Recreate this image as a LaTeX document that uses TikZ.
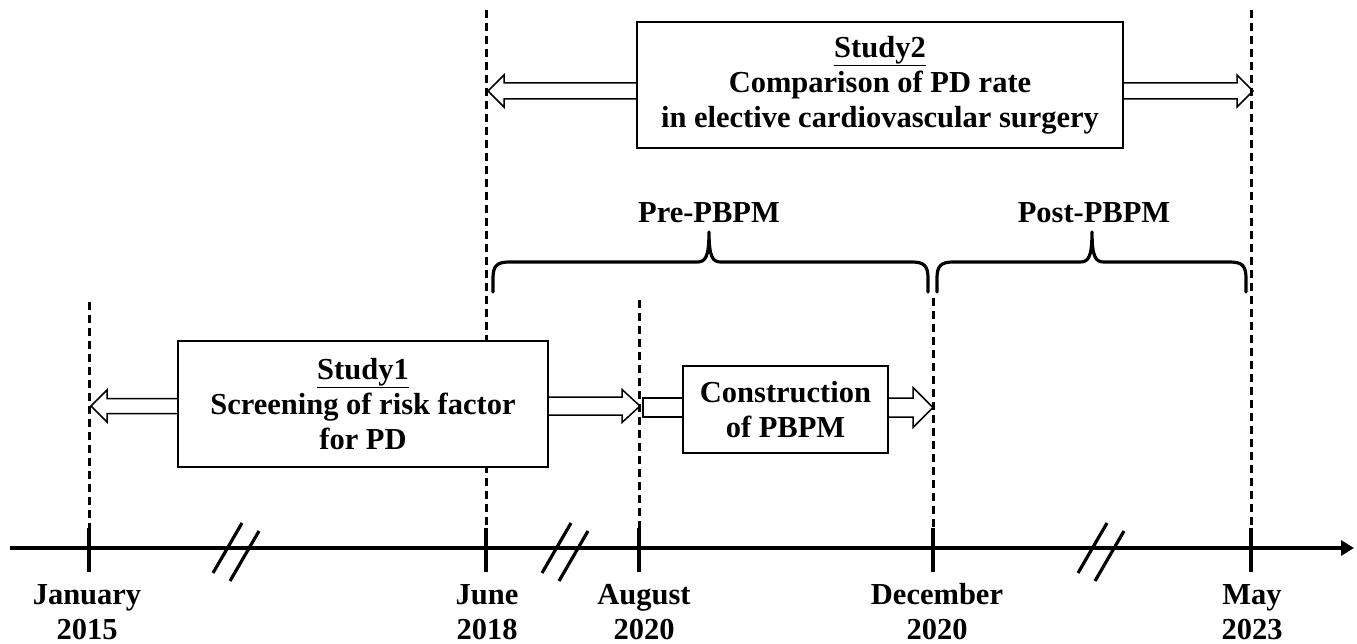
\documentclass[tikz,border=0pt]{standalone}
\usepackage{fontspec}
\setmainfont{Liberation Serif}
\usetikzlibrary{arrows.meta,calc}
\tikzset{brk/.pic={\draw[axisline] (-23,25) -- (6,-25); \draw[axisline] (-6,33) -- (23,-17);}}
\newcommand\blockarr[5]{%
  \draw[barrow] ($(#1)+(0,#3)$) -- ($(#2)+({-(#5)},{#3})$) -- ($(#2)+({-(#5)},{#4})$) -- (#2) -- ($(#2)+({-(#5)},{-(#4)})$) -- ($(#2)+({-(#5)},{-(#3)})$) -- ($(#1)+(0,{-(#3)})$);}
\newcommand\bracedraw[3]{%
  \draw[bracel] (#1,292) -- (#1,278) .. controls (#1,266) and ({#1+4},262) .. ({#1+16},262) -- ({#2-12},262) .. controls ({#2-4},262) and (#2,258) .. (#2,232) .. controls (#2,258) and ({#2+4},262) .. ({#2+12},262) -- ({#3-16},262) .. controls ({#3-4},262) and (#3,266) .. (#3,278) -- (#3,292);}
\newcommand\tallstrut{\rule{0pt}{21pt}}
\begin{document}
\begin{tikzpicture}[x=1pt,y=-1pt,
  every node/.style={font=\fontsize{30.5}{35}\selectfont\bfseries, align=center, inner sep=0pt},
  box/.style={draw, line width=1.5pt, fill=white},
  guide/.style={line width=3pt, dash pattern=on 8pt off 5pt},
  axisline/.style={line width=3.2pt},
  barrow/.style={draw, line width=1.5pt, line join=miter},
  bracel/.style={line width=3.2pt, line cap=round, line join=round},
  datelbl/.style={anchor=north}]
\useasboundingbox (0,0) rectangle (1357,644);
% time axis
\coordinate (tJan) at (89,548);
\coordinate (tJun) at (486,548);
\coordinate (tAug) at (639,548);
\coordinate (tDec) at (933,548);
\coordinate (tMay) at (1251,548);
\coordinate (axs) at (10,548);
\coordinate (axe) at (1354,548);
\draw[axisline,-{Triangle[length=13pt,width=15pt]}] (axs) -- (axe);
\foreach \t in {tJan,tJun,tAug,tDec,tMay}
  \draw[axisline] ([yshift=20pt]\t) -- ([yshift=-24pt]\t);
\pic at (236,548) {brk};
\pic at (565,548) {brk};
\pic at (1101,548) {brk};
% guides
\coordinate (gJan) at (89,302);
\coordinate (gJun) at (486,10);
\coordinate (gAug) at (639,300);
\coordinate (gDec) at (933,298);
\coordinate (gMay) at (1251,10);
\foreach \g/\t in {gJan/tJan,gJun/tJun,gAug/tAug,gDec/tDec,gMay/tMay}
  \draw[guide] (\g) -- ([yshift=20pt]\t);
% date labels
\node[datelbl] (lJan) at (87,583) {\tallstrut January\\2015};
\node[datelbl] (lJun) at (487,583) {\tallstrut June\\2018};
\node[datelbl] (lAug) at (644,583) {\tallstrut August\\2020};
\node[datelbl] (lDec) at (937,583) {\tallstrut December\\2020};
\node[datelbl] (lMay) at (1252,583) {\tallstrut May\\2023};
% boxes
\node[box, minimum width=370pt, minimum height=126pt] (s1) at (363,404) {\underline{Study1}\\Screening of risk factor\\for PD};
\node[box, minimum width=486pt, minimum height=126pt] (s2) at (880,85) {\underline{Study2}\\Comparison of PD rate\\in elective cardiovascular surgery};
\node[box, minimum width=205pt, minimum height=87pt] (c) at (785.5,409.5) {Construction\\of PBPM};
% block arrows
\coordinate (s1l) at ([yshift=-2pt]s1.west);
\coordinate (a1tip) at ([xshift=2pt]tJan |- s1l);
\blockarr{s1l}{a1tip}{7.5}{16}{-16}
\coordinate (s1r) at ([yshift=-2pt]s1.east);
\coordinate (a2tip) at ([xshift=1pt]tAug |- s1r);
\blockarr{s1r}{a2tip}{9}{16.5}{18}
\coordinate (cw) at ([yshift=2pt]c.west);
\coordinate (cl) at ([xshift=4pt]tAug |- cw);
\draw[barrow] ($(cw)+(0,9.5)$) -- ($(cl)+(0,9.5)$) -- ($(cl)+(0,-9.5)$) -- ($(cw)+(0,-9.5)$);
\coordinate (cr) at ([yshift=2pt]c.east);
\coordinate (a3tip) at (tDec |- cr);
\blockarr{cr}{a3tip}{9.5}{20}{20}
\coordinate (s2l) at ([yshift=-6pt]s2.west);
\coordinate (a4tip) at ([xshift=2pt]tJun |- s2l);
\blockarr{s2l}{a4tip}{8}{16}{-16}
\coordinate (s2r) at ([yshift=-6pt]s2.east);
\coordinate (a5tip) at ([xshift=2pt]tMay |- s2r);
\blockarr{s2r}{a5tip}{8}{16}{16}
% braces
\bracedraw{493}{709}{928}
\bracedraw{937}{1092}{1246}
\node (pre) at (709,213) {Pre-PBPM};
\node (post) at (1094,213) {Post-PBPM};
\end{tikzpicture}
\end{document}
